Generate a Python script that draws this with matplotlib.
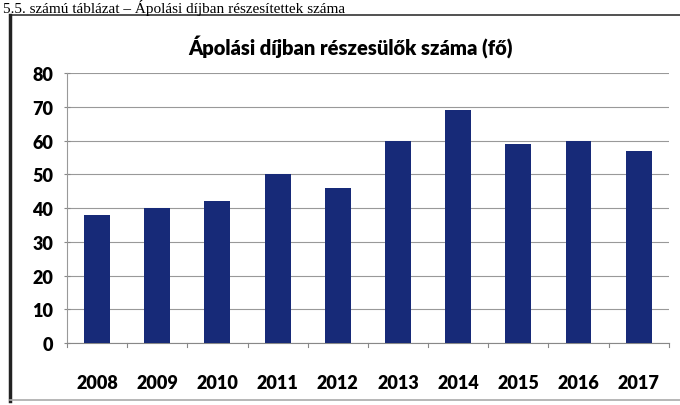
import matplotlib.pyplot as plt
from matplotlib.lines import Line2D

evek = ['2008', '2009', '2010', '2011', '2012', '2013', '2014', '2015', '2016', '2017']
fo = [38, 40, 42, 50, 46, 60, 69, 59, 60, 57]
y_ticks = [0, 10, 20, 30, 40, 50, 60, 70, 80]

plt.rcParams['font.family'] = ['Lato', 'DejaVu Sans']

fig = plt.figure(figsize=(6.8, 4.06), dpi=100)
ax = fig.add_axes([0.0985, 0.1527, 0.885, 0.665])

# oszlopok
x = list(range(len(evek)))
ax.bar(x, fo, width=0.43, color='#172a78', zorder=3)

ax.set_xlim(-0.5, len(evek) - 0.5)
ax.set_ylim(0, 80)
ax.set_yticks(y_ticks)
ax.set_yticklabels([str(t) for t in y_ticks], fontsize=13, fontweight='heavy')
ax.set_xticks(x)
ax.set_xticklabels(evek, fontsize=13, fontweight='heavy')
ax.tick_params(axis='x', length=0, pad=22)
ax.tick_params(axis='y', length=4, direction='inout', color='#888888', pad=8)

# kategóriahatárok jelölése
for b in range(len(evek) + 1):
    ax.plot([b - 0.5, b - 0.5], [0, -1.2], color='#888888', lw=0.8, clip_on=False)

ax.grid(axis='y', color='#999999', lw=0.8, zorder=0)
for s in ['top', 'right']:
    ax.spines[s].set_visible(False)
ax.spines['left'].set_color('#999999')
ax.spines['bottom'].set_color('#888888')

fig.text(0.515, 0.885, 'Ápolási díjban részesülők száma (fő)', ha='center', va='center',
         fontsize=14.5, fontweight='heavy')

# beszkennelt oldal: táblázatcím és keret
fig.text(0.005, 0.967, '5.5. számú táblázat – Ápolási díjban részesítettek száma',
         ha='left', va='baseline', fontsize=11,
         family=['Liberation Serif', 'DejaVu Serif'])
fig.add_artist(Line2D([0.015, 1.0], [0.961, 0.961], color='#333333', lw=1.2))
fig.add_artist(Line2D([0.015, 0.015], [0.01, 0.961], color='#222222', lw=2.5))
fig.add_artist(Line2D([0.015, 1.0], [0.012, 0.012], color='#aaaaaa', lw=1.2))

fig.savefig('out.png', dpi=100)
